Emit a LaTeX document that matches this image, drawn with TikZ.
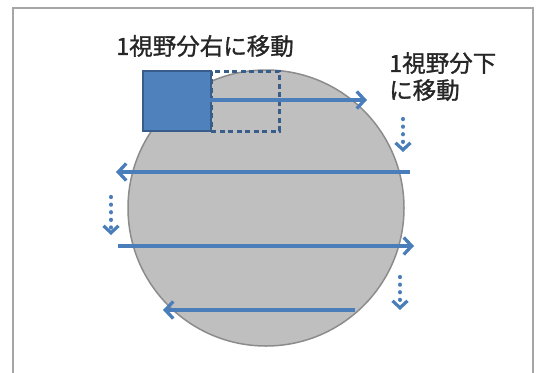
\documentclass[tikz,border=0pt]{standalone}
\usepackage{fontspec}
\newfontfamily\jp[FakeBold=1.2]{Noto Sans CJK JP}
\usetikzlibrary{arrows.meta}
\definecolor{lblue}{HTML}{4A7EBB}
\definecolor{fblue}{HTML}{4F81BD}
\definecolor{dblue}{HTML}{385D8A}
\definecolor{cgray}{HTML}{BFBFBF}
\definecolor{bgray}{HTML}{8C8C8C}
\definecolor{fgray}{HTML}{A6A6A6}
\tikzset{
  moveline/.style={draw=lblue, line width=3.8pt, -{Straight Barb[length=8pt,width=17pt,line width=3.3pt]}},
  stepline/.style={draw=lblue, line width=4.2pt, line cap=round, dash pattern=on 0.1pt off 7.5pt, -{Straight Barb[length=7pt,width=15pt,line width=3.2pt]}},
  label/.style={font=\jp\fontsize{23.5}{27}\selectfont, text=black!85, inner sep=0pt, align=left},
}
\begin{document}
\begin{tikzpicture}[x=1pt,y=-1pt]
\useasboundingbox (0,0) rectangle (537,372);
\fill[white] (0,0) rectangle (537,372);
% frame
\draw[fgray, line width=2.5pt] (13,378) -- (13,8) -- (533,8) -- (533,378);
% sample circle
\node[circle, draw=bgray, fill=cgray, line width=1.5pt, minimum size=276pt, inner sep=0pt] (wafer) at (266,208) {};
% fields of view
\node[draw=dblue, fill=fblue, line width=2.2pt, minimum width=68pt, minimum height=60pt, inner sep=0pt, anchor=north west] (fov) at (142,70) {};
\node[draw=dblue, dash pattern=on 5pt off 3.5pt, line width=2.6pt, minimum width=68pt, minimum height=60pt, inner sep=0pt, anchor=north west] (fovnext) at (210,70) {};
% labels
\node[label] (lright) at (205,46) {1視野分右に移動};
\node[label, anchor=north west] (ldown) at (389,52) {1視野分下\\に移動};
% scan path coordinates
\coordinate (a1) at (210,100); \coordinate (a2) at (367,100);
\coordinate (b1) at (410,172); \coordinate (b2) at (116,172);
\coordinate (c1) at (118,246); \coordinate (c2) at (414,246);
\coordinate (d1) at (355,310); \coordinate (d2) at (163,310);
\coordinate (s1) at (403,119); \coordinate (s2) at (403,152);
\coordinate (t1) at (111,197); \coordinate (t2) at (111,235);
\coordinate (u1) at (400,277); \coordinate (u2) at (400,310);
\draw[moveline] (a1) -- (a2);
\draw[moveline] (b1) -- (b2);
\draw[moveline] (c1) -- (c2);
\draw[moveline] (d1) -- (d2);
\draw[stepline] (s1) -- (s2);
\draw[stepline] (t1) -- (t2);
\draw[stepline] (u1) -- (u2);
\end{tikzpicture}
\end{document}
